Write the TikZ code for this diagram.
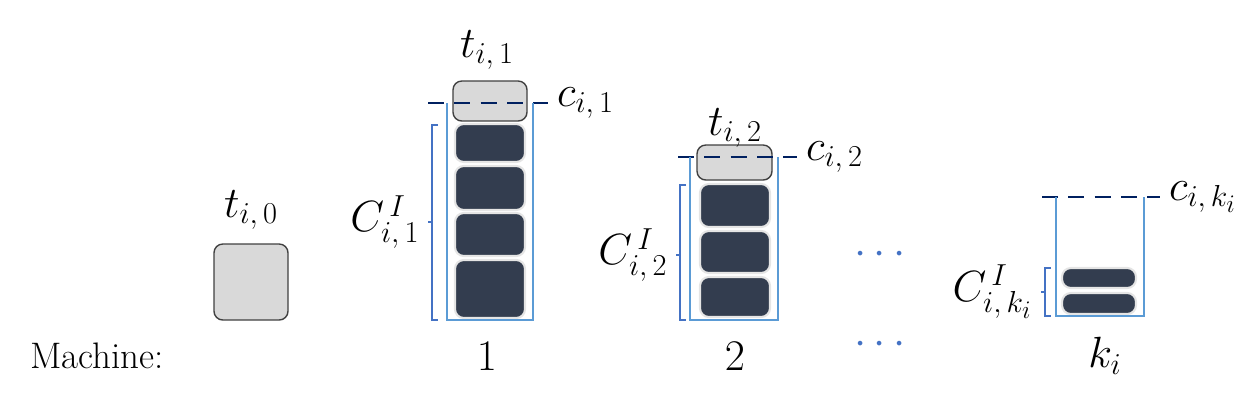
\documentclass[tikz,border=0pt]{standalone}
\usepackage{tikz}
\usetikzlibrary{positioning}
\definecolor{jobDark}{HTML}{333D4F}
\definecolor{jobLight}{HTML}{D9D9D9}
\definecolor{binBlue}{HTML}{5B9BD5}
\definecolor{braceBlue}{HTML}{4472C4}
\definecolor{cutNavy}{HTML}{002060}
\tikzstyle{doneJob} = [rectangle, rounded corners=5pt, draw=black!75, thick, fill=jobLight, inner sep=0pt]
\tikzstyle{queueJob} = [rectangle, rounded corners=5pt, draw=black!10, very thick, fill=jobDark, inner sep=0pt, minimum width=70*0.02cm]
\tikzstyle{bin} = [binBlue, line width=1.4pt]
\tikzstyle{bracket} = [braceBlue, line width=1.4pt]
\tikzstyle{cut} = [cutNavy, dash pattern=on 9pt off 6pt, line width=1.4pt]
\tikzstyle{mathLabel} = [font=\fontsize{27}{30}\selectfont, inner sep=1pt]
\tikzstyle{plainLabel} = [font=\fontsize{21}{24}\selectfont]
\tikzstyle{dots} = [braceBlue, font=\fontsize{26}{26}\selectfont\bfseries]

\begin{document}
\begin{tikzpicture}[x=0.02cm,y=-0.02cm]
\useasboundingbox (0,0) rectangle (1250,414);

% machine 0
\node (job0) [doneJob, minimum width=74*0.02cm, minimum height=76*0.02cm] at (251,282) {};
\node (t0) [mathLabel] at (251,210) {$t_{i,\,0}$};

% machine 1
\node (top1) [doneJob, minimum width=74*0.02cm, minimum height=40*0.02cm] at (490,101) {};
\node (q1a) [queueJob, minimum height=38*0.02cm] at (490,143) {};
\node (q1b) [queueJob, minimum height=44*0.02cm] at (490,188) {};
\node (q1c) [queueJob, minimum height=43*0.02cm] at (490,234.5) {};
\node (q1d) [queueJob, minimum height=58*0.02cm] at (490,289) {};
\node (t1) [mathLabel] at (487,50) {$t_{i,\,1}$};
\coordinate (cutL1) at (428,103);
\coordinate (cutR1) at (548,103);
\draw [cut] (cutL1) -- (cutR1);
\node (c1) [mathLabel, right=4pt of cutR1] {$c_{i,\,1}$};
\draw [bin] (447,103) -- (447,320) -- (533,320) -- (533,103);
\draw [bracket] (438,125) -- (432,125) -- (432,320) -- (438,320);
\coordinate (mid1) at (432,222);
\draw [bracket] (mid1) -- ++(-4,0);
\node (C1) [mathLabel, left=6pt of mid1] {$C^{\,I}_{i,\,1}$};

% machine 2
\node (top2) [doneJob, minimum width=75*0.02cm, minimum height=35*0.02cm] at (734.5,162.5) {};
\node (q2a) [queueJob, minimum height=43*0.02cm] at (735,205.5) {};
\node (q2b) [queueJob, minimum height=42*0.02cm] at (735,252) {};
\node (q2c) [queueJob, minimum height=40*0.02cm] at (735,297) {};
\node (t2) [mathLabel] at (735,128) {$t_{i,\,2}$};
\coordinate (cutL2) at (678,157);
\coordinate (cutR2) at (797,157);
\draw [cut] (cutL2) -- (cutR2);
\node (c2) [mathLabel, right=4pt of cutR2] {$c_{i,\,2}$};
\draw [bin] (690,157) -- (690,320) -- (778,320) -- (778,157);
\draw [bracket] (686,185) -- (680,185) -- (680,320) -- (686,320);
\coordinate (mid2) at (680,255);
\draw [bracket] (mid2) -- ++(-4,0);
\node (C2) [mathLabel, left=6pt of mid2] {$C^{\,I}_{i,\,2}$};

% machine k_i
\node (qka) [queueJob, minimum width=74*0.02cm, minimum height=20*0.02cm] at (1099,278) {};
\node (qkb) [queueJob, minimum width=74*0.02cm, minimum height=21*0.02cm] at (1099,303.5) {};
\coordinate (cutLk) at (1042,197);
\coordinate (cutRk) at (1160,197);
\draw [cut] (cutLk) -- (cutRk);
\node (ck) [mathLabel, right=4pt of cutRk] {$c_{i,\,k_i}$};
\draw [bin] (1056,197) -- (1056,316) -- (1144,316) -- (1144,197);
\draw [bracket] (1051,268) -- (1045,268) -- (1045,316) -- (1051,316);
\coordinate (midk) at (1045,292);
\draw [bracket] (midk) -- ++(-4,0);
\node (Ck) [mathLabel, left=6pt of midk] {$C^{\,I}_{i,\,k_i}$};

% dots and machine numbers
\node (dotsTop) [dots] at (880,255) {$\cdots$};
\node (dotsBot) [dots] at (880,345) {$\cdots$};
\node (machine) [plainLabel] at (97,356) {Machine:};
\node (m1) [mathLabel] at (487,356) {$1$};
\node (m2) [mathLabel] at (735,356) {$2$};
\node (mk) [mathLabel] at (1105,356) {$k_i$};
\end{tikzpicture}
\end{document}
